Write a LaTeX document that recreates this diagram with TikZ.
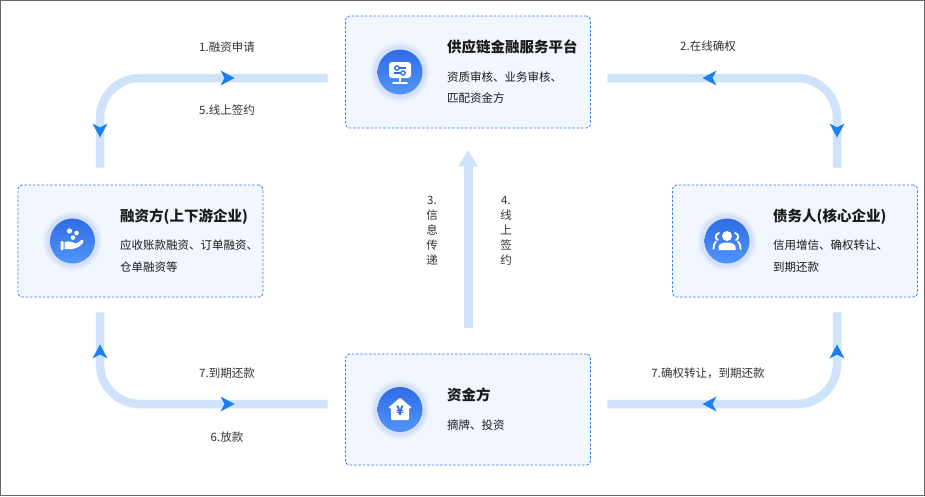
\documentclass[tikz,border=0pt]{standalone}
\usepackage{fontspec}
\setmainfont{Noto Sans CJK SC}
\usetikzlibrary{calc}
\definecolor{boxfill}{HTML}{F2F6FE}
\definecolor{boxline}{HTML}{3B7BEA}
\definecolor{flowc}{HTML}{CFE4FA}
\definecolor{arrowblue}{HTML}{1A7FF0}
\definecolor{txt}{HTML}{1A1A1A}
\definecolor{lbl}{HTML}{333333}
\definecolor{halo}{HTML}{D5E1FB}
\definecolor{halo2}{HTML}{E4ECFC}
\definecolor{icontop}{HTML}{2F6CE5}
\definecolor{iconbot}{HTML}{5295F8}
\tikzset{
  box/.style={draw=boxline, fill=boxfill, dash pattern=on 2.5pt off 1.8pt, rounded corners=4pt, line width=0.8pt, minimum width=245pt, minimum height=112pt, inner sep=0pt},
  flowline/.style={draw=flowc, line width=8.5pt, rounded corners=40pt},
  ahead/.pic={\fill[arrowblue] (7.5,0) -- (-6.5,-7.5) -- (-2.5,0) -- (-6.5,7.5) -- cycle;},
  ttl/.style={anchor=west, font=\fontsize{14.5}{16}\selectfont\bfseries, text=txt, inner sep=0pt},
  sub/.style={anchor=west, align=left, font=\fontsize{11.5}{21.5}\selectfont, text=txt, inner sep=0pt},
  lab/.style={font=\fontsize{11.5}{14}\selectfont, text=lbl, inner sep=0pt},
  vlab/.style={align=center, font=\fontsize{11.5}{15}\selectfont, text=lbl, inner sep=0pt},
}
\newcommand{\iconbase}[1]{%
  \fill[halo2] (#1) circle (29);
  \fill[halo] (#1) circle (26.5);
  \shade[top color=icontop, bottom color=iconbot] (#1) circle (22.5);
}
\begin{document}
\begin{tikzpicture}[x=1pt, y=-1pt]
\useasboundingbox (0,0) rectangle (925,496);
\fill[white] (0,0) rectangle (925,496);
\draw[gray!80!black, line width=0.8pt] (0.5,0.5) rectangle (924.5,495.5);

% boxes
\node[box] (plat) at (468,72) {};
\node[box] (fin) at (140.5,241) {};
\node[box] (debt) at (795,241) {};
\node[box, minimum height=111pt] (fund) at (468,409.5) {};

% icons
\iconbase{400,72}
\iconbase{72.5,241}
\iconbase{727,241}
\iconbase{400,409.5}

% platform icon: screen with sliders
\begin{scope}[shift={(400,72)}]
  \fill[white, rounded corners=3pt] (-11,-10) rectangle (11,6);
  \draw[icontop, line width=1.4pt] (-6,-4) -- (6,-4);
  \draw[icontop, line width=1.4pt] (-6,1) -- (6,1);
  \filldraw[fill=white, draw=icontop, line width=1.2pt] (-3,-4) circle (2.2);
  \filldraw[fill=white, draw=icontop, line width=1.2pt] (3,1) circle (2.2);
  \draw[white, line width=2pt] (0,6) -- (0,10);
  \draw[white, line width=2pt, line cap=round] (-7,11) -- (7,11);
\end{scope}

% financing icon: hand with coins
\begin{scope}[shift={(72.5,241)}]
  \fill[white] (-3,-10) circle (2.6);
  \fill[white] (4,-8) circle (2.3);
  \fill[white] (0.5,-3.5) circle (2.3);
  \fill[white, rounded corners=1pt] (-12,0) rectangle (-9,9);
  \fill[white] (-8,1) .. controls (-3,-1) and (1,2) .. (4,2.5)
     -- (9,-1) .. controls (11,-2) and (12,0.5) .. (10,2.5)
     .. controls (6,7) and (1,9) .. (-8,8) -- cycle;
\end{scope}

% debtor icon: people
\begin{scope}[shift={(727,241)}]
  \fill[white] (0,-5) circle (5);
  \fill[white] (-8.5,9) -- (-8.5,6) .. controls (-8.5,0) and (8.5,0) .. (8.5,6) -- (8.5,9) -- cycle;
  \draw[white, line width=1.8pt, line cap=round] (-8,-8) .. controls (-12,-7) and (-12,-2) .. (-9,-1);
  \draw[white, line width=1.8pt, line cap=round] (-11,0.5) .. controls (-13,2) and (-13.5,5) .. (-13.5,8);
  \draw[white, line width=1.8pt, line cap=round] (8,-8) .. controls (12,-7) and (12,-2) .. (9,-1);
  \draw[white, line width=1.8pt, line cap=round] (11,0.5) .. controls (13,2) and (13.5,5) .. (13.5,8);
\end{scope}

% fund icon: house with yen
\begin{scope}[shift={(400,409.5)}]
  \fill[white, rounded corners=1.2pt] (0,-12) -- (12,-1.5) -- (9,-1.5) -- (9,10.5) -- (-9,10.5) -- (-9,-1.5) -- (-12,-1.5) -- cycle;
  \node[text=icontop, font=\fontsize{13}{13}\selectfont\bfseries, inner sep=0pt] at (0,1.5) {¥};
\end{scope}

% texts
\node[ttl] (platT) at (447,47) {供应链金融服务平台};
\node[sub] (platS) at (447,87.5) {资质审核、业务审核、\\匹配资金方};
\node[ttl] (finT) at (120,216.5) {融资方(上下游企业)};
\node[sub] (finS) at (120,256) {应收账款融资、订单融资、\\仓单融资等};
\node[ttl] (debtT) at (773,216.5) {债务人(核心企业)};
\node[sub] (debtS) at (773,256) {信用增信、确权转让、\\到期还款};
\node[ttl] (fundT) at (447,395) {资金方};
\node[sub] (fundS) at (447,425) {摘牌、投资};

% connector coordinates
\coordinate (tlA) at ($(plat.west)+(-17.5,6)$);
\coordinate (tlB) at ($(fin.north)+(-40.5,-17)$);
\coordinate (trA) at ($(plat.east)+(16.5,6)$);
\coordinate (trB) at ($(debt.north)+(42,-17)$);
\coordinate (blA) at ($(fin.south)+(-40.5,15)$);
\coordinate (blB) at ($(fund.west)+(-17.5,-5.5)$);
\coordinate (brA) at ($(debt.south)+(42,15)$);
\coordinate (brB) at ($(fund.east)+(16.5,-5.5)$);
\coordinate (cA) at ($(fund.north)+(0,-26)$);
\coordinate (cB) at ($(plat.south)+(0,22)$);

\draw[flowline] (tlA) -- (tlB |- tlA) -- (tlB);
\draw[flowline] (trA) -- (trB |- trA) -- (trB);
\draw[flowline] (blA) -- (blA |- blB) -- (blB);
\draw[flowline] (brA) -- (brA |- brB) -- (brB);
\draw[draw=flowc, line width=9pt] (cA) -- ($(cB)+(0,13)$);
\fill[flowc] (cB) -- ($(cB)+(10,16)$) -- ($(cB)+(-10,16)$) -- cycle;

% arrowheads
\pic at (227,78) {ahead};
\pic[rotate=-90] at (100,130) {ahead};
\pic[rotate=180] at (710,78) {ahead};
\pic[rotate=-90] at (837,130) {ahead};
\pic[rotate=90] at (100,352) {ahead};
\pic at (227,404) {ahead};
\pic[rotate=90] at (837,352) {ahead};
\pic[rotate=180] at (710,404) {ahead};

% labels
\node[lab] (l1) at (227,47) {1.融资申请};
\node[lab] (l5) at (227,110) {5.线上签约};
\node[lab] (l2) at (708,46) {2.在线确权};
\node[lab] (l7a) at (227,373) {7.到期还款};
\node[lab] (l6) at (227,437) {6.放款};
\node[lab] (l7b) at (708,373) {7.确权转让，到期还款};
\node[vlab] (l3) at (432,231) {3.\\信\\息\\传\\递};
\node[vlab] (l4) at (506,231) {4.\\线\\上\\签\\约};
\end{tikzpicture}
\end{document}
